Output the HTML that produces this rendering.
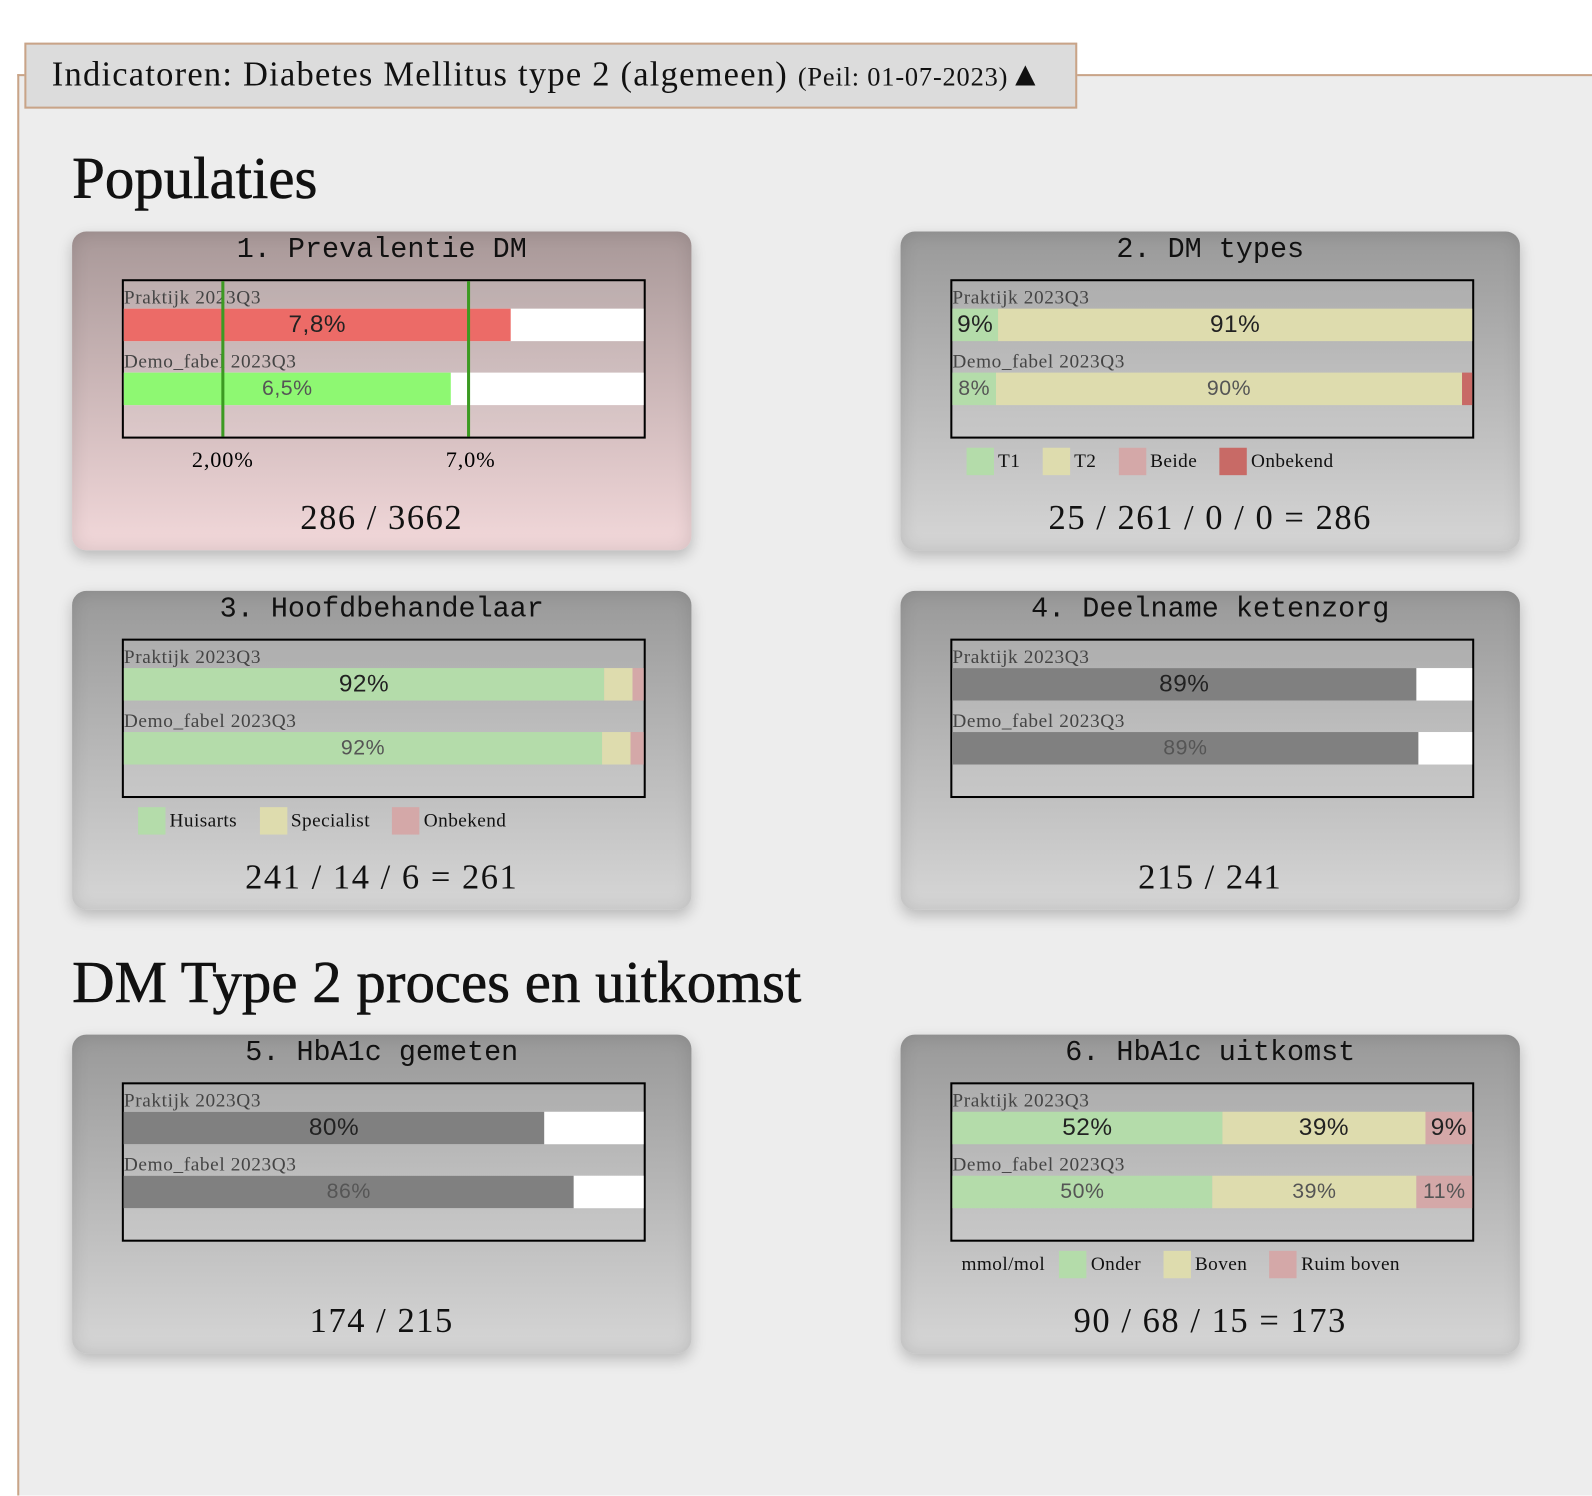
<!DOCTYPE html>
<html><head><meta charset="utf-8"><style>
*{margin:0;padding:0;box-sizing:border-box}
body{width:1592px;height:1374px;background:#fff;position:relative;overflow:hidden;font-family:"Liberation Serif",serif}
#w{position:absolute;left:0;top:0;width:1568px;height:1360px;transform:scale(1.0153);transform-origin:0 0}
.frame{position:absolute;left:17px;top:73px;width:1600px;height:1400px;background:#ededed;border-left:2px solid #c9a488;border-top:2px solid #c9a488}
.hdr{position:absolute;left:24px;top:42px;width:1037px;height:65px;background:#dcdcdc;border:2px solid #c9a488;font-size:34px;letter-spacing:1.2px;padding:11px 0 0 25px;color:#111}
.hdr small{font-size:26px;letter-spacing:0.8px}
h2{position:absolute;left:71px;font-weight:normal;font-size:58px;color:#111;-webkit-text-stroke:0.6px #111}
.card{position:absolute;width:610px;height:314px;border-radius:14px;background:linear-gradient(#999,#d6d6d6);box-shadow:0 6px 14px rgba(0,0,0,.22),inset 0 0 18px rgba(0,0,0,.12)}
.card.pink{background:linear-gradient(#a89898,#f2d8da)}
.t{position:absolute;top:3px;width:100%;text-align:center;font-family:"Liberation Mono",monospace;font-size:28px;color:#111}
.box{position:absolute;left:49px;top:47px;width:516px;height:157px;border:2px solid #000;background:rgba(255,255,255,.12)}
.lab{position:absolute;left:0;font-size:19px;letter-spacing:0.6px;color:#444}
.bar{position:absolute;left:0;width:512px;height:32px;display:flex}
.bar div{height:100%;text-align:center;font-family:"Liberation Sans",sans-serif;font-size:24px;line-height:32px;color:#222;overflow:hidden;letter-spacing:0.5px}
.bar.b div{font-size:21px;color:#555}
.num{position:absolute;top:264px;width:100%;text-align:center;font-size:34px;letter-spacing:1.5px;color:#111}
.leg{position:absolute;top:213px;left:0;width:100%;font-size:19px;letter-spacing:0.4px;color:#111;display:flex;align-items:center}
.sw{display:inline-block;width:27px;height:27px;margin:0 4px 0 0}
.leg span{margin-right:22px;display:flex;align-items:center}
</style></head><body><div id="w">
<div class="frame"></div>
<div class="hdr">Indicatoren: Diabetes Mellitus type 2 (algemeen) <small>(Peil: 01-07-2023)</small>&#9650;</div>
<h2 style="top:142px">Populaties</h2>
<h2 style="top:934px">DM Type 2 proces en uitkomst</h2>

<div class="card pink" style="left:71px;top:228px">
<div class="t">1. Prevalentie DM</div>
<div class="box">
<div class="lab" style="top:6px">Praktijk 2023Q3</div>
<div class="bar" style="top:27px;background:#fff"><div style="width:381px;background:#ec6b67">7,8%</div></div>
<div class="lab" style="top:69px">Demo_fabel 2023Q3</div>
<div class="bar b" style="top:90px;background:#fff"><div style="width:322px;background:#8ef872">6,5%</div></div>
<div style="position:absolute;left:96px;top:0;width:3px;height:153px;background:#3c9a22"></div>
<div style="position:absolute;left:338px;top:0;width:3px;height:153px;background:#3c9a22"></div>
</div>
<div style="position:absolute;top:212px;left:118px;font-size:22px;letter-spacing:0.8px">2,00%</div>
<div style="position:absolute;top:212px;left:368px;font-size:22px;letter-spacing:0.8px">7,0%</div>
<div class="num">286 / 3662</div>
</div>

<div class="card" style="left:887px;top:228px">
<div class="t">2. DM types</div>
<div class="box">
<div class="lab" style="top:6px">Praktijk 2023Q3</div>
<div class="bar" style="top:27px"><div style="width:45px;background:#b4dcaa">9%</div><div style="width:467px;background:#dedcae">91%</div></div>
<div class="lab" style="top:69px">Demo_fabel 2023Q3</div>
<div class="bar b" style="top:90px"><div style="width:43px;background:#b4dcaa">8%</div><div style="width:459px;background:#dedcae">90%</div><div style="width:10px;background:#c86a66"></div></div>
</div>
<div class="leg" style="left:65px"><span><i class="sw" style="background:#b4dcaa"></i>T1</span><span><i class="sw" style="background:#dedcae"></i>T2</span><span><i class="sw" style="background:#d4a8a8"></i>Beide</span><span><i class="sw" style="background:#c86a66"></i>Onbekend</span></div>
<div class="num">25 / 261 / 0 / 0 = 286</div>
</div>

<div class="card" style="left:71px;top:582px">
<div class="t">3. Hoofdbehandelaar</div>
<div class="box">
<div class="lab" style="top:6px">Praktijk 2023Q3</div>
<div class="bar" style="top:27px"><div style="width:473px;background:#b4dcaa">92%</div><div style="width:28px;background:#dedcae"></div><div style="width:11px;background:#d4a8a8"></div></div>
<div class="lab" style="top:69px">Demo_fabel 2023Q3</div>
<div class="bar b" style="top:90px"><div style="width:471px;background:#b4dcaa">92%</div><div style="width:28px;background:#dedcae"></div><div style="width:13px;background:#d4a8a8"></div></div>
</div>
<div class="leg" style="left:65px"><span><i class="sw" style="background:#b4dcaa"></i>Huisarts</span><span><i class="sw" style="background:#dedcae"></i>Specialist</span><span><i class="sw" style="background:#d4a8a8"></i>Onbekend</span></div>
<div class="num">241 / 14 / 6 = 261</div>
</div>

<div class="card" style="left:887px;top:582px">
<div class="t">4. Deelname ketenzorg</div>
<div class="box">
<div class="lab" style="top:6px">Praktijk 2023Q3</div>
<div class="bar" style="top:27px;background:#fff"><div style="width:457px;background:#808080">89%</div></div>
<div class="lab" style="top:69px">Demo_fabel 2023Q3</div>
<div class="bar b" style="top:90px;background:#fff"><div style="width:459px;background:#808080">89%</div></div>
</div>
<div class="num">215 / 241</div>
</div>

<div class="card" style="left:71px;top:1019px">
<div class="t">5. HbA1c gemeten</div>
<div class="box">
<div class="lab" style="top:6px">Praktijk 2023Q3</div>
<div class="bar" style="top:27px;background:#fff"><div style="width:414px;background:#808080">80%</div></div>
<div class="lab" style="top:69px">Demo_fabel 2023Q3</div>
<div class="bar b" style="top:90px;background:#fff"><div style="width:443px;background:#808080">86%</div></div>
</div>
<div class="num">174 / 215</div>
</div>

<div class="card" style="left:887px;top:1019px">
<div class="t">6. HbA1c uitkomst</div>
<div class="box">
<div class="lab" style="top:6px">Praktijk 2023Q3</div>
<div class="bar" style="top:27px"><div style="width:266px;background:#b4dcaa">52%</div><div style="width:200px;background:#dedcae">39%</div><div style="width:46px;background:#d4a8a8">9%</div></div>
<div class="lab" style="top:69px">Demo_fabel 2023Q3</div>
<div class="bar b" style="top:90px"><div style="width:256px;background:#b4dcaa">50%</div><div style="width:201px;background:#dedcae">39%</div><div style="width:55px;background:#d4a8a8">11%</div></div>
</div>
<div class="leg" style="left:60px"><span style="margin-right:14px">mmol/mol</span><span><i class="sw" style="background:#b4dcaa"></i>Onder</span><span><i class="sw" style="background:#dedcae"></i>Boven</span><span><i class="sw" style="background:#d4a8a8"></i>Ruim boven</span></div>
<div class="num">90 / 68 / 15 = 173</div>
</div>
</div></body></html>
